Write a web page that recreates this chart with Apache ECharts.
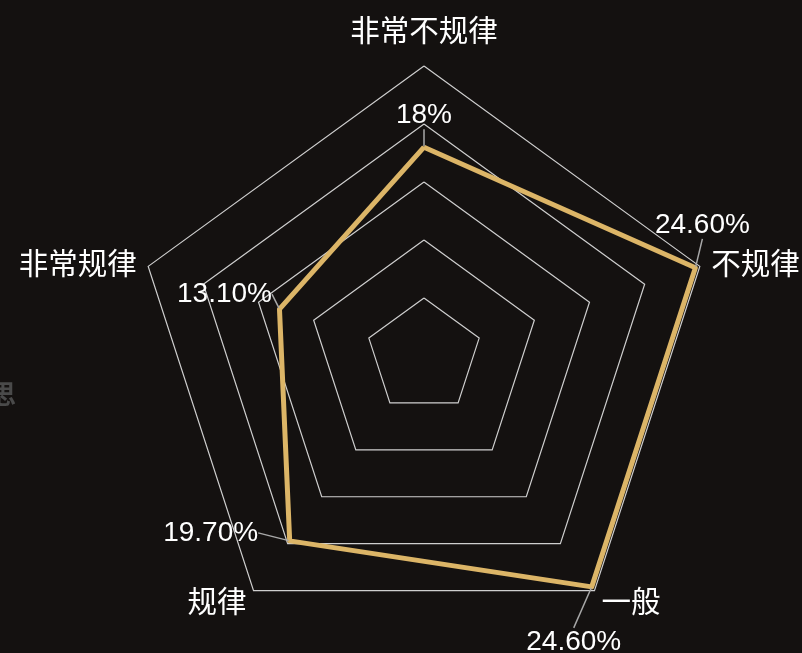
<!DOCTYPE html>
<html>
<head>
<meta charset="utf-8">
<script src="https://cdn.jsdelivr.net/npm/echarts@6/dist/echarts.min.js"></script>
<style>
html,body{margin:0;padding:0;background:#141110;}
#main{width:802px;height:653px;}
</style>
</head>
<body>
<div id="main"></div>
<script>
// indicators listed counter-clockwise from the top (ECharts radar order)
var indicatorNames = ['非常不规律', '非常规律', '规律', '一般', '不规律'];
var indicatorMax = 25;
var values = [18, 13.1, 19.7, 24.6, 24.6];
var labelTexts = ['18%', '13.10%', '19.70%', '24.60%', '24.60%'];

var chart = echarts.init(document.getElementById('main'));
var CX = 424, CY = 356;
var offsets = [[0, -32], [-55, -15], [-79, -8], [-18, 55], [7, -43]];

function indexFromRect(r) {
  var x = r.x + r.width / 2 - CX, y = r.y + r.height / 2 - CY;
  var ang = Math.atan2(-x, -y); // 0 at top, counter-clockwise
  if (ang < 0) ang += Math.PI * 2;
  return Math.round(ang / (Math.PI * 2 / 5)) % 5;
}

chart.setOption({
  backgroundColor: '#141110',
  graphic: [{
    type: 'text', left: -10, top: 381,
    style: { text: '思', fill: '#4a4a4a', font: 'bold 26px "Noto Sans CJK SC"' }
  }],
  radar: {
    center: [CX, CY],
    radius: 290,
    startAngle: 90,
    splitNumber: 5,
    shape: 'polygon',
    indicator: indicatorNames.map(function (n) { return { name: n, max: indicatorMax }; }),
    axisName: {
      color: '#ffffff', fontSize: 29.5, fontFamily: 'Noto Sans CJK SC',
      formatter: function (n) { return n === indicatorNames[0] ? '{t|' + n + '}' : n; },
      rich: { t: { color: '#ffffff', fontSize: 29.5, fontFamily: 'Noto Sans CJK SC', padding: [0, 0, 9, 0] } }
    },
    nameGap: 12,
    axisLine: { show: false },
    splitArea: { show: false },
    splitLine: { lineStyle: { color: '#cfcfcf', width: 1.2 } }
  },
  series: [{
    type: 'radar',
    symbol: 'circle',
    symbolSize: 2,
    lineStyle: { color: '#dcb567', width: 5 },
    itemStyle: { color: '#dcb567' },
    label: {
      show: true,
      position: 'inside',
      color: '#ffffff',
      fontSize: 28,
      fontFamily: 'Liberation Sans',
      formatter: function (p) {
        return labelTexts[p.dimensionIndex != null ? p.dimensionIndex : 0];
      }
    },
    labelLine: { show: true, lineStyle: { color: '#a8a8a8', width: 1.5 } },
    labelLayout: function (p) {
      var i = indexFromRect(p.rect);
      return { dx: offsets[i][0], dy: offsets[i][1] };
    },
    data: [{ value: values, name: '分布' }]
  }]
});
</script>
</body>
</html>
